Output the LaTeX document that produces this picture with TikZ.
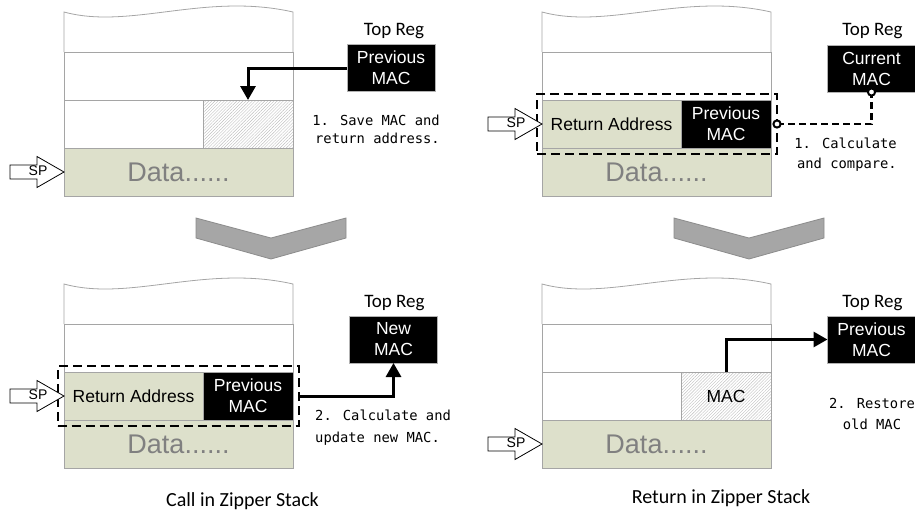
\documentclass[tikz,border=0pt]{standalone}
\usepackage{fontspec}
\setmainfont{Liberation Sans}
\newfontfamily\carlitofont{Carlito}
\newfontfamily\dejamono{DejaVu Sans Mono}
\usetikzlibrary{arrows.meta,patterns.meta}

\definecolor{linegray}{RGB}{165,165,165}
\definecolor{datagreen}{RGB}{221,224,203}
\definecolor{chevgray}{RGB}{166,166,166}
\definecolor{chevedge}{RGB}{140,140,140}
\definecolor{datatextgray}{RGB}{128,128,128}
\definecolor{hatchgray}{RGB}{190,190,190}

\newcommand\boxfont{\fontsize{17.5}{21}\selectfont}
\newcommand\datafont{\fontsize{27}{30}\selectfont}
\newcommand\regfont{\carlitofont\fontsize{19}{22}\selectfont}
\newcommand\capfont{\carlitofont\fontsize{20}{24}\selectfont}
\newcommand\notefont{\dejamono\fontsize{13.8}{18}\selectfont}
\newcommand\spfont{\fontsize{14}{16}\selectfont}

\tikzset{
  cell/.style={draw=linegray, line width=0.8pt, inner sep=0pt, outer sep=0pt,
    anchor=north west, minimum height=48pt},
  fullrow/.style={cell, minimum width=229pt},
  leftcell/.style={cell, minimum width=139pt},
  rightcell/.style={cell, minimum width=90pt},
  greencell/.style={fill=datagreen},
  hatchcell/.style={pattern={Lines[angle=45, distance=2.2pt, line width=0.4pt]},
    pattern color=hatchgray},
  blackcell/.style={fill=black, text=white, font=\boxfont, align=center},
  celltxt/.style={font=\boxfont},
  datatxt/.style={font=\datafont, text=datatextgray},
  dashbox/.style={draw=black, line width=2pt, dash pattern=on 9pt off 5pt,
    minimum height=60pt, inner sep=0pt, outer sep=0pt},
  regbox/.style={fill=black, draw=gray!60, line width=0.6pt, text=white,
    minimum width=88pt, minimum height=47pt, inner sep=0pt, outer sep=0pt,
    font=\boxfont, align=center},
  toplabel/.style={font=\regfont, anchor=base, inner sep=0pt},
  captxt/.style={font=\capfont, anchor=base, inner sep=0pt},
  notetxt/.style={font=\notefont, inner sep=0pt},
  conn/.style={draw=black, line width=3pt, -{Triangle[width=15pt,length=14pt]}},
  dconn/.style={draw=black, line width=2.8pt, dash pattern=on 7pt off 4pt},
  endring/.style={draw=black, line width=2pt, fill=white},
  chevron/.style={fill=chevgray, draw=chevedge, line width=0.8pt},
  stackwave/.pic={
    \draw[linegray, line width=0.8pt] (0,40) -- (0,0)
      .. controls (66,18) and (141,-20) .. (229,0) -- (229,40);
  },
  sparrow/.pic={
    \draw[black, line width=0.8pt, fill=white] (-54,-7) -- (-27,-7) -- (-27,-15.5)
      -- (0,0) -- (-27,15.5) -- (-27,7) -- (-54,7) -- cycle;
    \node[font=\spfont, inner sep=0pt] (-label) at (-26,-1) {SP};
  }
}

\begin{document}
\begin{tikzpicture}[x=1pt,y=-1pt]
\useasboundingbox (0,0) rectangle (915,512);

% ================= Top-left: call, step 1
\pic at (64,12) {stackwave};
\node[fullrow] (tlB) at (64,52) {};
\node[leftcell] (tlCl) at (64,100) {};
\node[rightcell, hatchcell] (tlCh) at (203,100) {};
\node[fullrow, greencell, datatxt] (tlD) at (64,148) {Data......};
\pic (spTL) at (tlD.west) {sparrow};
\node[regbox] (regTL) at (391,68) {Previous\\MAC};
\node[toplabel] (topTL) at (394,35) {Top Reg};
\draw[conn] (regTL.west) -| (tlCh.north);
\node[notetxt, anchor=base east] (noteTLa) at (440,125) {1. Save MAC and};
\node[notetxt, anchor=base east] (noteTLb) at (440,143) {return address.};

% ================= Top-right: return, step 1
\pic at (542,12) {stackwave};
\node[fullrow] (trB) at (542,52) {};
\node[leftcell, greencell, celltxt] (trCl) at (542,100) {Return Address};
\node[rightcell, blackcell] (trCh) at (681,100) {Previous\\MAC};
\node[fullrow, greencell, datatxt] (trD) at (542,148) {Data......};
\node[dashbox, minimum width=240pt] (trDash) at (657,124) {};
\pic (spTR) at (trCl.west) {sparrow};
\node[regbox] (regTR) at (871.5,68.5) {Current\\MAC};
\node[toplabel] (topTR) at (872.5,35) {Top Reg};
\draw[dconn] (trDash.east) -| (regTR.south);
\draw[endring] (trDash.east) circle (3.6pt);
\draw[endring] (regTR.south) circle (3.6pt);
\node[notetxt, anchor=base east] (noteTRa) at (897,148) {1. Calculate};
\node[notetxt, anchor=base east] (noteTRb) at (897,168) {and compare.};

% ================= Chevrons
\draw[chevron] (196,218) -- (271,238) -- (346,218) -- (346,238) -- (271,259) -- (196,238) -- cycle;
\draw[chevron] (674,218) -- (749,238) -- (824,218) -- (824,238) -- (749,259) -- (674,238) -- cycle;

% ================= Bottom-left: call, step 2
\pic at (64,284) {stackwave};
\node[fullrow] (blB) at (64,324) {};
\node[leftcell, greencell, celltxt] (blCl) at (64,372) {Return Address};
\node[rightcell, blackcell] (blCh) at (203,372) {Previous\\MAC};
\node[fullrow, greencell, datatxt] (blD) at (64,420) {Data......};
\node[dashbox, minimum width=241pt] (blDash) at (178,396) {};
\pic (spBL) at (blCl.west) {sparrow};
\node[regbox] (regBL) at (393.5,339.5) {New\\MAC};
\node[toplabel] (topBL) at (394.5,307) {Top Reg};
\draw[conn] (blDash.east) -| (regBL.south);
\node[notetxt, anchor=base west] (noteBLa) at (315,420) {2. Calculate and};
\node[notetxt, anchor=base west] (noteBLb) at (315,442) {update new MAC.};

% ================= Bottom-right: return, step 2
\pic at (542,284) {stackwave};
\node[fullrow] (brB) at (542,324) {};
\node[leftcell] (brCl) at (542,372) {};
\node[rightcell, hatchcell, celltxt] (brCh) at (681,372) {MAC};
\node[fullrow, greencell, datatxt] (brD) at (542,420) {Data......};
\pic (spBR) at (brD.west) {sparrow};
\node[regbox] (regBR) at (871.5,339.5) {Previous\\MAC};
\node[toplabel] (topBR) at (872.5,307) {Top Reg};
\draw[conn] (brCh.north) |- (regBR.west);
\node[notetxt, anchor=base] (noteBRa) at (872,408) {2. Restore};
\node[notetxt, anchor=base] (noteBRb) at (872,429) {old MAC};

% ================= Captions
\node[captxt] (capL) at (242.5,506) {Call in Zipper Stack};
\node[captxt] (capR) at (721,503) {Return in Zipper Stack};
\end{tikzpicture}
\end{document}
